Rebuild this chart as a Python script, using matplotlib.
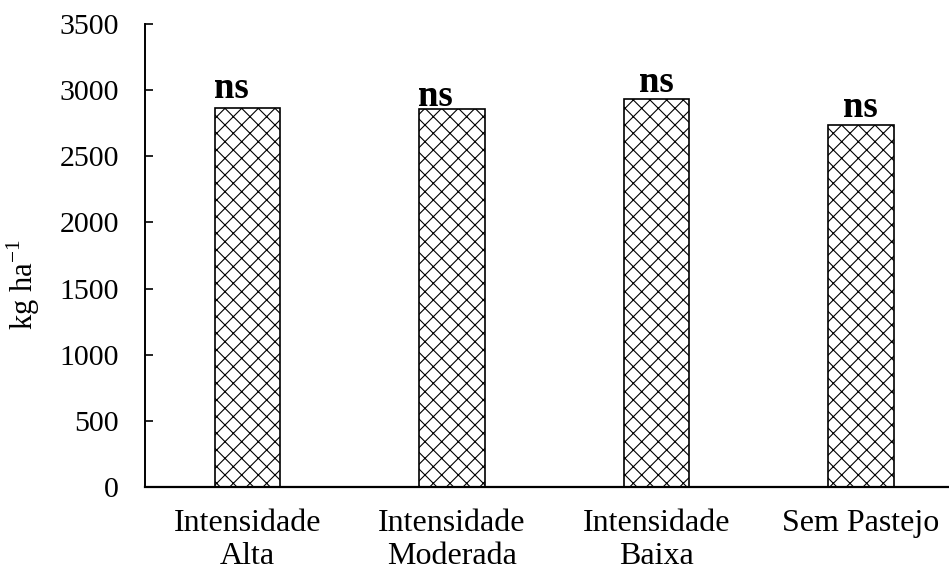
import matplotlib.pyplot as plt
import numpy as np

plt.rcParams['font.family'] = ['Liberation Serif', 'DejaVu Serif']
plt.rcParams['mathtext.fontset'] = 'custom'
plt.rcParams['mathtext.rm'] = 'Liberation Serif'
plt.rcParams['hatch.linewidth'] = 0.8

categorias = ['Intensidade\nAlta', 'Intensidade\nModerada', 'Intensidade\nBaixa', 'Sem Pastejo']
valores = [2866, 2857, 2934, 2738]
rotulos = ['ns', 'ns', 'ns', 'ns']

fig = plt.figure(figsize=(9.49, 5.71), dpi=100)
ax = fig.add_axes([0.1531, 0.1476, 0.8617, 0.8098])

x = np.arange(len(categorias))
ax.bar(x, valores, width=0.32, color='white', edgecolor='black',
       linewidth=1.2, hatch='xx')

# ns labels (first two sit a bit left of the bar centre in the original)
desloc_x = [-0.08, -0.08, 0.0, 0.0]
desloc_y = [7, 2, 5, 6]
for i in range(len(valores)):
    ax.annotate(rotulos[i], (x[i] + desloc_x[i], valores[i]),
                xytext=(0, desloc_y[i]), textcoords='offset points',
                ha='center', va='baseline', fontsize=26.5, fontweight='bold')

ax.set_xlim(-0.5, 3.5)
ax.set_ylim(0, 3500)
ax.set_yticks(np.arange(0, 3501, 500))
ax.set_xticks(x)
ax.set_xticklabels(categorias, fontsize=23, linespacing=1.2)
ax.tick_params(axis='y', direction='in', length=6, width=1.2, pad=19, labelsize=21.5)
ax.tick_params(axis='x', length=0, pad=16)

ax.spines['top'].set_visible(False)
ax.spines['right'].set_visible(False)
ax.spines['left'].set_linewidth(1.4)
ax.spines['bottom'].set_linewidth(1.6)

fig.text(23/949, 1 - 285/571, r'kg ha$^{\mathregular{-1}}$', rotation=90,
         ha='center', va='center', fontsize=22)

fig.savefig('out.png', dpi=100)
